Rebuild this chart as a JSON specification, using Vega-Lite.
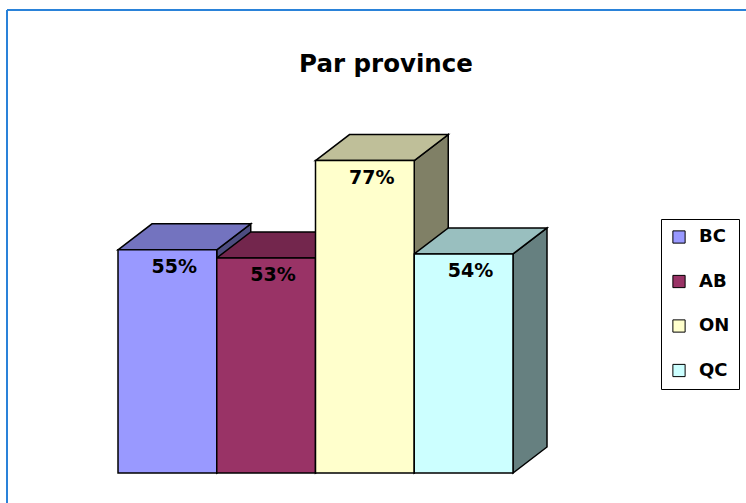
{
  "$schema": "https://vega.github.io/schema/vega-lite/v6.json",
  "width": 739,
  "height": 493,
  "autosize": {"type": "none"},
  "padding": {"left": 7, "top": 10, "right": 0, "bottom": 0},
  "background": "white",
  "config": {"view": {"stroke": null}, "legend": {"strokeColor": "black"}},
  "title": {
    "text": "Par province",
    "font": "DejaVu Sans",
    "fontSize": 24.5,
    "fontWeight": "bold",
    "color": "black",
    "anchor": "middle",
    "orient": "top",
    "baseline": "alphabetic",
    "offset": -87,
    "dx": 9.5
  },
  "data": {
    "values": [
      {"province": "BC", "value": 55},
      {"province": "AB", "value": 53},
      {"province": "ON", "value": 77},
      {"province": "QC", "value": 54}
    ]
  },
  "transform": [
    {"window": [{"op": "row_number", "as": "idx"}]},
    {"calculate": "datum.idx - 1", "as": "x0"},
    {"calculate": "datum.idx", "as": "x1"}
  ],
  "resolve": {"scale": {"color": "independent"}},
  "layer": [
    {
      "mark": {"type": "rule", "stroke": "#2a82d8", "strokeWidth": 1.5},
      "encoding": {
        "x": {"datum": -1.1241, "type": "quantitative", "scale": {"domain": [-1.1241, 6.3595], "nice": false, "zero": false}, "axis": null}
      }
    },
    {
      "mark": {"type": "rule", "stroke": "#2a82d8", "strokeWidth": 1.5},
      "encoding": {
        "y": {"datum": 114.12, "type": "quantitative", "scale": {"domain": [-7.395, 114.12], "nice": false, "zero": false}, "axis": null}
      }
    },
    {
      "transform": [
        {"calculate": "[0,1]", "as": "k"},
        {"flatten": ["k"]},
        {"calculate": "datum.k == 0 ? datum.x1 : datum.x1 + 0.3443", "as": "px"},
        {"calculate": "datum.k == 0 ? datum.value : datum.value + 6.409", "as": "pyTop"},
        {"calculate": "datum.k == 0 ? 0 : 6.409", "as": "pyBot"}
      ],
      "mark": {"type": "area", "stroke": "black", "strokeWidth": 1.5, "interpolate": "linear", "fillOpacity": 1},
      "encoding": {
        "x": {"field": "px", "type": "quantitative", "scale": {"domain": [-1.1241, 6.3595], "nice": false, "zero": false}, "axis": null},
        "y": {"field": "pyTop", "type": "quantitative", "stack": null, "scale": {"domain": [-7.395, 114.12], "nice": false, "zero": false}, "axis": null},
        "y2": {"field": "pyBot"},
        "color": {"field": "province", "type": "nominal", "scale": {"domain": ["BC", "AB", "ON", "QC"], "range": ["#4D4D80", "#4D1A33", "#808066", "#668080"]}, "legend": null}
      }
    },
    {
      "transform": [
        {"calculate": "[0,1,2,3]", "as": "k"},
        {"flatten": ["k"]},
        {"calculate": "datum.k == 0 ? datum.x0 : datum.k == 1 ? datum.x0 + 0.3443 : datum.k == 2 ? datum.x1 : datum.x1 + 0.3443", "as": "px"},
        {"calculate": "datum.k == 0 ? datum.value : datum.value + 6.409", "as": "pyTop"},
        {"calculate": "datum.k == 3 ? datum.value + 6.409 : datum.value", "as": "pyBot"}
      ],
      "mark": {"type": "area", "stroke": "black", "strokeWidth": 1.5, "interpolate": "linear", "fillOpacity": 1},
      "encoding": {
        "x": {"field": "px", "type": "quantitative", "scale": {"domain": [-1.1241, 6.3595], "nice": false, "zero": false}, "axis": null},
        "y": {"field": "pyTop", "type": "quantitative", "stack": null, "scale": {"domain": [-7.395, 114.12], "nice": false, "zero": false}, "axis": null},
        "y2": {"field": "pyBot"},
        "color": {"field": "province", "type": "nominal", "scale": {"domain": ["BC", "AB", "ON", "QC"], "range": ["#7373BF", "#73264D", "#BFBF99", "#99BFBF"]}, "legend": null}
      }
    },
    {
      "mark": {"type": "rect", "stroke": "black", "strokeWidth": 1.5},
      "encoding": {
        "x": {"field": "x0", "type": "quantitative", "scale": {"domain": [-1.1241, 6.3595], "nice": false, "zero": false}, "axis": null},
        "x2": {"field": "x1"},
        "y": {"field": "value", "type": "quantitative", "scale": {"domain": [-7.395, 114.12], "nice": false, "zero": false}, "axis": null},
        "y2": {"datum": 0},
        "color": {
          "field": "province",
          "type": "nominal",
          "sort": ["BC", "AB", "ON", "QC"],
          "scale": {"domain": ["BC", "AB", "ON", "QC"], "range": ["#9999FF", "#993366", "#FFFFCC", "#CCFFFF"]},
          "legend": {
            "orient": "none",
            "legendX": 654,
            "legendY": 209,
            "title": null,
            "symbolType": "square",
            "symbolSize": 150,
            "symbolStrokeColor": "black",
            "symbolStrokeWidth": 1,
            "symbolOpacity": 1,
            "labelFont": "DejaVu Sans",
            "labelFontSize": 18,
            "labelFontWeight": "bold",
            "labelColor": "black",
            "labelOffset": 11,
            "rowPadding": 26.5,
            "padding": 9,
            "strokeColor": "black",
            "fillColor": "white"
          }
        }
      }
    },
    {
      "transform": [
        {"calculate": "datum.x0 + 0.57", "as": "xm"},
        {"calculate": "datum.value + '%'", "as": "label"}
      ],
      "mark": {"type": "text", "font": "DejaVu Sans", "fontSize": 19, "fontWeight": "bold", "color": "black", "baseline": "middle", "align": "center", "dy": 17},
      "encoding": {
        "x": {"field": "xm", "type": "quantitative", "scale": {"domain": [-1.1241, 6.3595], "nice": false, "zero": false}, "axis": null},
        "y": {"field": "value", "type": "quantitative", "scale": {"domain": [-7.395, 114.12], "nice": false, "zero": false}, "axis": null},
        "text": {"field": "label"}
      }
    }
  ]
}
